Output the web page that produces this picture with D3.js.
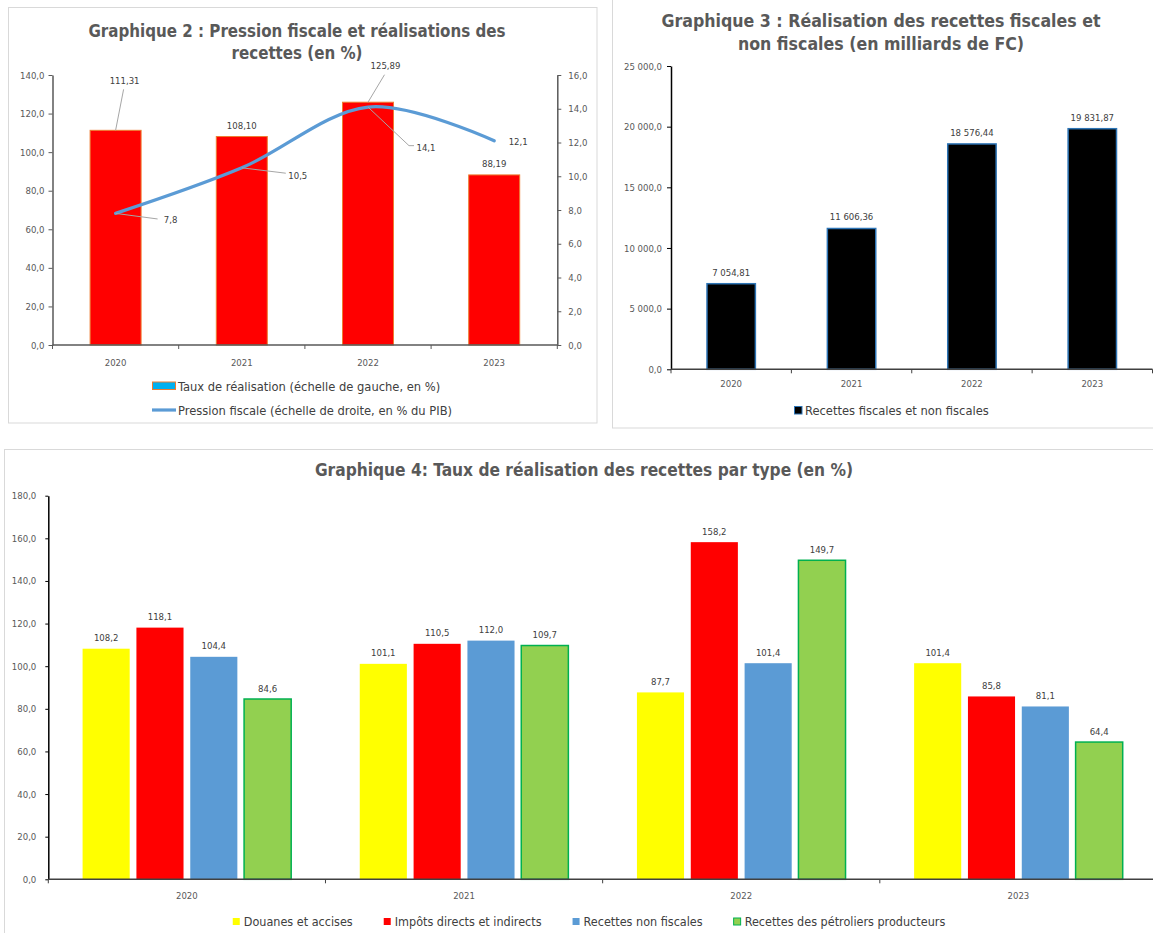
<!DOCTYPE html>
<html>
<head>
<meta charset="utf-8">
<script src="https://cdn.jsdelivr.net/npm/d3@7"></script>
<style>
  html, body { margin: 0; padding: 0; background: #fff; }
  svg { display: block; }
</style>
</head>
<body>
<svg id="chart" width="1153" height="933"></svg>
<script>
// ---- Data ----
const years = ["2020", "2021", "2022", "2023"];

// Graphique 2
const tauxRealisation = [111.31, 108.10, 125.89, 88.19];   // left scale, %
const pressionFiscale = [7.8, 10.5, 14.1, 12.1];           // right scale, % du PIB
const ticks2Left = [0, 20, 40, 60, 80, 100, 120, 140];
const ticks2Right = [0, 2, 4, 6, 8, 10, 12, 14, 16];

// Graphique 3
const recettesTotales = [7054.81, 11606.36, 18576.44, 19831.87];
const ticks3 = [0, 5000, 10000, 15000, 20000, 25000];

// Graphique 4
const douanesAccises = [108.2, 101.1, 87.7, 101.4];
const impotsDirects = [118.1, 110.5, 158.2, 85.8];
const recettesNonFiscales = [104.4, 112.0, 101.4, 81.1];
const recettesPetroliers = [84.6, 109.7, 149.7, 64.4];
const seriesNames4 = ["Douanes et accises", "Impôts directs et indirects",
                      "Recettes non fiscales", "Recettes des pétroliers producteurs"];
const ticks4 = [0, 20, 40, 60, 80, 100, 120, 140, 160, 180];

// ---- Formatting (French conventions) ----
const fr = d3.formatLocale({ decimal: ",", thousands: " ", grouping: [3], currency: ["", " FC"] });
const f1 = fr.format(",.1f");
const f2 = fr.format(",.2f");

const FONT = "'DejaVu Sans Condensed', 'DejaVu Sans', sans-serif";
const TITLE_COLOR = "#595959";
const TICK_COLOR = "#595959";
const LABEL_COLOR = "#404040";
const LEADER_COLOR = "#a6a6a6";

const svg = d3.select("#chart").style("font-family", FONT);

// ---- Panel frames ----
function frame(x, y, w, h) {
  svg.append("rect").attr("x", x).attr("y", y).attr("width", w).attr("height", h)
    .attr("fill", "#fff").attr("stroke", "#d9d9d9").attr("stroke-width", 1);
}
frame(8.5, 7.5, 588.5, 415.5);
frame(612.5, -5, 570, 433);
frame(4.5, 449.5, 1170, 500);

function title(lines, cx, y0, lh, size) {
  const t = svg.append("text").attr("text-anchor", "middle")
    .attr("font-weight", "bold").attr("font-size", size).attr("fill", TITLE_COLOR);
  lines.forEach((l, i) => t.append("tspan").attr("x", cx).attr("y", y0 + i * lh).text(l));
}

function styleAxis(g, color, width) {
  g.select(".domain").attr("stroke", color).attr("stroke-width", width);
  g.selectAll(".tick line").attr("stroke", color).attr("stroke-width", 1);
  g.selectAll(".tick text").attr("fill", TICK_COLOR).attr("font-size", 9.5).attr("font-family", FONT);
}

// Category axis: baseline, boundary ticks and year labels
function categoryAxis(x, y0, labelY, color, width) {
  const r = x.range();
  const step = (r[1] - r[0]) / years.length;
  svg.append("line").attr("x1", r[0]).attr("x2", r[1]).attr("y1", y0).attr("y2", y0)
    .attr("stroke", color).attr("stroke-width", width);
  d3.range(years.length + 1).forEach(i => {
    const xx = r[0] + i * step;
    svg.append("line").attr("x1", xx).attr("x2", xx).attr("y1", y0).attr("y2", y0 + 4)
      .attr("stroke", color).attr("stroke-width", 1);
  });
  svg.append("g").selectAll("text").data(years).join("text")
    .attr("x", d => x(d) + x.bandwidth() / 2).attr("y", labelY)
    .attr("text-anchor", "middle").attr("dominant-baseline", "central")
    .attr("font-size", 9.5).attr("fill", TICK_COLOR).text(d => d);
}

function valueLabel(x, y, text) {
  svg.append("text").attr("x", x).attr("y", y).attr("text-anchor", "middle")
    .attr("dominant-baseline", "central").attr("font-size", 9.5)
    .attr("fill", LABEL_COLOR).text(text);
}

function leader(points) {
  svg.append("path").attr("d", d3.line()(points)).attr("fill", "none")
    .attr("stroke", LEADER_COLOR).attr("stroke-width", 1);
}

// ============ Graphique 2 ============
title(["Graphique 2 : Pression fiscale et réalisations des", "recettes (en %)"], 297, 37, 22, 16.8);

const x2 = d3.scaleBand().domain(years).range([52.5, 557.3]).paddingInner(0.596).paddingOuter(0.298);
const y2L = d3.scaleLinear().domain([0, 140]).range([345, 75]);
const y2R = d3.scaleLinear().domain([0, 16]).range([345, 75]);

svg.append("g").attr("transform", "translate(52.5,0)")
  .call(d3.axisLeft(y2L).tickValues(ticks2Left).tickFormat(f1).tickSize(4).tickSizeOuter(0).tickPadding(4))
  .call(g => styleAxis(g, "#595959", 1.5));
svg.append("g").attr("transform", "translate(557.3,0)")
  .call(d3.axisRight(y2R).tickValues(ticks2Right).tickFormat(f1).tickSize(4).tickSizeOuter(0).tickPadding(7))
  .call(g => styleAxis(g, "#595959", 1.5));

svg.append("g").selectAll("rect").data(years).join("rect")
  .attr("x", d => x2(d)).attr("width", x2.bandwidth())
  .attr("y", (d, i) => y2L(tauxRealisation[i]))
  .attr("height", (d, i) => y2L(0) - y2L(tauxRealisation[i]))
  .attr("fill", "#ff0000").attr("stroke", "#ed7d31").attr("stroke-width", 1);

categoryAxis(x2, 345, 362, "#595959", 1.5);

const cx2 = d => x2(d) + x2.bandwidth() / 2;

svg.append("path")
  .datum(years)
  .attr("d", d3.line().x(d => cx2(d)).y((d, i) => y2R(pressionFiscale[i])).curve(d3.curveCatmullRom.alpha(0)))
  .attr("fill", "none").attr("stroke", "#5b9bd5").attr("stroke-width", 3.2).attr("stroke-linecap", "round");

// bar labels (offsets from the top of each bar)
const barLabelOffsets = [[9, -50, true], [0, -11, false], [17.5, -36.5, true], [0, -11, false]];
years.forEach((d, i) => {
  const bx = cx2(d), by = y2L(tauxRealisation[i]);
  const [dx, dy, lead] = barLabelOffsets[i];
  if (lead) leader([[bx, by], [bx + dx - 1, by + dy + 9]]);
  valueLabel(bx + dx, by + dy, fr.format(".2f")(tauxRealisation[i]));
});

// line labels (offsets from each point)
const lineLabelOffsets = [[55, 6.6], [56, 8], [58, 40], [24, 1]];
const lineLeaders = [[[0, 0], [42, 5.6]], [[0, 0], [44, 5.4]], [[0, 0], [41, 38.6], [46, 38.6]], null];
years.forEach((d, i) => {
  const px = cx2(d), py = y2R(pressionFiscale[i]);
  const [dx, dy] = lineLabelOffsets[i];
  if (lineLeaders[i]) leader(lineLeaders[i].map(([a, b]) => [px + a, py + b]));
  valueLabel(px + dx, py + dy, fr.format(".1f")(pressionFiscale[i]));
});

// legend
const lg2 = svg.append("g").attr("font-size", 12.8).attr("fill", LABEL_COLOR);
lg2.append("rect").attr("x", 152.5).attr("y", 382).attr("width", 23).attr("height", 7.5)
  .attr("fill", "#00b0f0").attr("stroke", "#ed7d31").attr("stroke-width", 1);
lg2.append("text").attr("x", 178).attr("y", 386).attr("dominant-baseline", "central")
  .text("Taux de réalisation (échelle de gauche, en %)");
lg2.append("line").attr("x1", 152).attr("x2", 176).attr("y1", 410).attr("y2", 410)
  .attr("stroke", "#5b9bd5").attr("stroke-width", 3.2);
lg2.append("text").attr("x", 178).attr("y", 410).attr("dominant-baseline", "central")
  .text("Pression fiscale (échelle de droite, en % du PIB)");

// ============ Graphique 3 ============
title(["Graphique 3 : Réalisation des recettes fiscales et", "non fiscales (en milliards de FC)"], 881, 27, 23, 17.6);

const x3 = d3.scaleBand().domain(years).range([671, 1152.5]).paddingInner(0.598).paddingOuter(0.299);
const y3 = d3.scaleLinear().domain([0, 25000]).range([369.3, 66]);

svg.append("g").attr("transform", "translate(671,0)")
  .call(d3.axisLeft(y3).tickValues(ticks3).tickFormat(f1).tickSize(4).tickSizeOuter(0).tickPadding(5))
  .call(g => styleAxis(g, "#000", 1.5));

svg.append("g").selectAll("rect").data(years).join("rect")
  .attr("x", d => x3(d)).attr("width", x3.bandwidth())
  .attr("y", (d, i) => y3(recettesTotales[i]))
  .attr("height", (d, i) => y3(0) - y3(recettesTotales[i]))
  .attr("fill", "#000").attr("stroke", "#2e75b6").attr("stroke-width", 1.5);

categoryAxis(x3, 369.3, 383.5, "#404040", 1.5);

years.forEach((d, i) => {
  valueLabel(x3(d) + x3.bandwidth() / 2, y3(recettesTotales[i]) - 11.5, f2(recettesTotales[i]));
});

const lg3 = svg.append("g").attr("font-size", 12.8).attr("fill", LABEL_COLOR);
lg3.append("rect").attr("x", 794.5).attr("y", 406.5).attr("width", 7.5).attr("height", 7.5)
  .attr("fill", "#000").attr("stroke", "#2e75b6").attr("stroke-width", 1);
lg3.append("text").attr("x", 805).attr("y", 410.5).attr("dominant-baseline", "central")
  .text("Recettes fiscales et non fiscales");

// ============ Graphique 4 ============
title(["Graphique 4: Taux de réalisation des recettes par type (en %)"], 584, 476, 0, 17.2);

const series4 = [douanesAccises, impotsDirects, recettesNonFiscales, recettesPetroliers];
const fill4 = ["#ffff00", "#ff0000", "#5b9bd5", "#92d050"];
const stroke4 = [null, null, null, "#00b050"];

const x4 = d3.scaleBand().domain(years).range([48.3, 1157]).padding(0);
const groupW = 208.6;
const x4in = d3.scaleBand().domain(d3.range(series4.length)).range([0, groupW]).paddingInner(0.125);
const y4 = d3.scaleLinear().domain([0, 180]).range([879.3, 495.7]);

svg.append("g").attr("transform", "translate(48.3,0)")
  .call(d3.axisLeft(y4).tickValues(ticks4).tickFormat(f1).tickSize(3).tickSizeOuter(0).tickPadding(9))
  .call(g => styleAxis(g, "#000", 1.5));

const groupOffset = (x4.bandwidth() - groupW) / 2;
series4.forEach((vals, s) => {
  svg.append("g").selectAll("rect").data(years).join("rect")
    .attr("x", d => x4(d) + groupOffset + x4in(s))
    .attr("width", x4in.bandwidth())
    .attr("y", (d, i) => y4(vals[i]))
    .attr("height", (d, i) => y4(0) - y4(vals[i]))
    .attr("fill", fill4[s])
    .attr("stroke", stroke4[s] || "none").attr("stroke-width", 1.5);
  years.forEach((d, i) => {
    valueLabel(x4(d) + groupOffset + x4in(s) + x4in.bandwidth() / 2, y4(vals[i]) - 11, f1(vals[i]));
  });
});

categoryAxis(x4, 879.3, 895, "#404040", 1.5);

// legend, centred under the plot
const lg4 = svg.append("g").attr("font-size", 12.5).attr("fill", LABEL_COLOR);
const items = seriesNames4.map((name, s) => {
  const g = lg4.append("g");
  g.append("rect").attr("x", 0).attr("y", -3.5).attr("width", 7).attr("height", 7)
    .attr("fill", fill4[s]).attr("stroke", stroke4[s] || "none").attr("stroke-width", 1);
  const t = g.append("text").attr("x", 11).attr("y", 0).attr("dominant-baseline", "central").text(name);
  return { g, w: 11 + t.node().getComputedTextLength() };
});
const gap = 31;
const totalW = d3.sum(items, d => d.w) + gap * (items.length - 1);
let lx = 589 - totalW / 2;
items.forEach(it => { it.g.attr("transform", `translate(${lx},921.5)`); lx += it.w + gap; });
</script>
</body>
</html>
